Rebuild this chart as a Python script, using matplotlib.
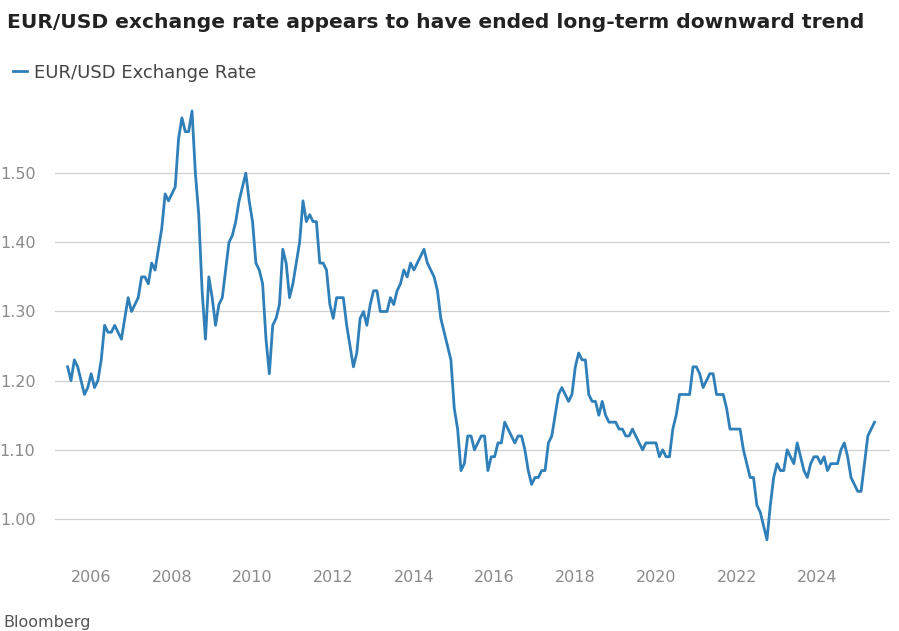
import numpy as np
import matplotlib.pyplot as plt

# monthly EUR/USD levels (Jun 2005 .. Jun 2025)
start_year = 2005 + 5/12
rates = [
    1.22, 1.20, 1.23, 1.22, 1.20, 1.18, 1.19,
    1.21, 1.19, 1.20, 1.23, 1.28, 1.27, 1.27, 1.28, 1.27, 1.26, 1.29, 1.32,
    1.30, 1.31, 1.32, 1.35, 1.35, 1.34, 1.37, 1.36, 1.39, 1.42, 1.47, 1.46,
    1.47, 1.48, 1.55, 1.58, 1.56, 1.56, 1.59, 1.50, 1.44, 1.33, 1.26, 1.35,
    1.32, 1.28, 1.31, 1.32, 1.36, 1.40, 1.41, 1.43, 1.46, 1.48, 1.50, 1.46,
    1.43, 1.37, 1.36, 1.34, 1.26, 1.21, 1.28, 1.29, 1.31, 1.39, 1.37, 1.32,
    1.34, 1.37, 1.40, 1.46, 1.43, 1.44, 1.43, 1.43, 1.37, 1.37, 1.36, 1.31,
    1.29, 1.32, 1.32, 1.32, 1.28, 1.25, 1.22, 1.24, 1.29, 1.30, 1.28, 1.31,
    1.33, 1.33, 1.30, 1.30, 1.30, 1.32, 1.31, 1.33, 1.34, 1.36, 1.35, 1.37,
    1.36, 1.37, 1.38, 1.39, 1.37, 1.36, 1.35, 1.33, 1.29, 1.27, 1.25, 1.23,
    1.16, 1.13, 1.07, 1.08, 1.12, 1.12, 1.10, 1.11, 1.12, 1.12, 1.07, 1.09,
    1.09, 1.11, 1.11, 1.14, 1.13, 1.12, 1.11, 1.12, 1.12, 1.10, 1.07, 1.05,
    1.06, 1.06, 1.07, 1.07, 1.11, 1.12, 1.15, 1.18, 1.19, 1.18, 1.17, 1.18,
    1.22, 1.24, 1.23, 1.23, 1.18, 1.17, 1.17, 1.15, 1.17, 1.15, 1.14, 1.14,
    1.14, 1.13, 1.13, 1.12, 1.12, 1.13, 1.12, 1.11, 1.10, 1.11, 1.11, 1.11,
    1.11, 1.09, 1.10, 1.09, 1.09, 1.13, 1.15, 1.18, 1.18, 1.18, 1.18, 1.22,
    1.22, 1.21, 1.19, 1.20, 1.21, 1.21, 1.18, 1.18, 1.18, 1.16, 1.13, 1.13,
    1.13, 1.13, 1.10, 1.08, 1.06, 1.06, 1.02, 1.01, 0.99, 0.97, 1.02, 1.06,
    1.08, 1.07, 1.07, 1.10, 1.09, 1.08, 1.11, 1.09, 1.07, 1.06, 1.08, 1.09,
    1.09, 1.08, 1.09, 1.07, 1.08, 1.08, 1.08, 1.10, 1.11, 1.09, 1.06, 1.05,
    1.04, 1.04, 1.08, 1.12, 1.13, 1.14,
]
years = start_year + np.arange(len(rates)) / 12
yticks = [1.00, 1.10, 1.20, 1.30, 1.40, 1.50]
xticks = list(range(2006, 2025, 2))

blue = "#2f7fb8"
grey = "#8a8a8a"

fig = plt.figure(figsize=(8.99, 6.31), dpi=100)
ax = fig.add_axes([0.061, 0.1227, 0.929, 0.7125])
ax.plot(years, rates, color=blue, lw=2.0, label="EUR/USD Exchange Rate")
ax.set_xlim(2005.1, 2025.8)
ax.set_ylim(0.95, 1.60)
ax.set_yticks(yticks)
ax.set_yticklabels([f"{v:.2f}" for v in yticks])
ax.set_xticks(xticks)
ax.set_xticklabels([str(x) for x in xticks])
ax.grid(axis="y", color="#d0d0d0", lw=0.9)
ax.set_axisbelow(True)
for s in ax.spines.values():
    s.set_visible(False)
ax.tick_params(length=0, colors=grey, labelsize=11.5, pad=12)
ax.tick_params(axis="y", pad=14)

fig.text(0.008, 0.965, "EUR/USD exchange rate appears to have ended long-term downward trend",
         fontsize=14.6, fontweight="bold", color="#222222", va="center")
fig.legend(loc="upper left", bbox_to_anchor=(-0.004, 0.925), frameon=False,
           fontsize=13, handlelength=0.8, handletextpad=0.4, labelcolor="#444444")
fig.text(0.004, 0.013, "Bloomberg", fontsize=11.5, color="#555555", va="center")

fig.savefig("out.png", dpi=100)
